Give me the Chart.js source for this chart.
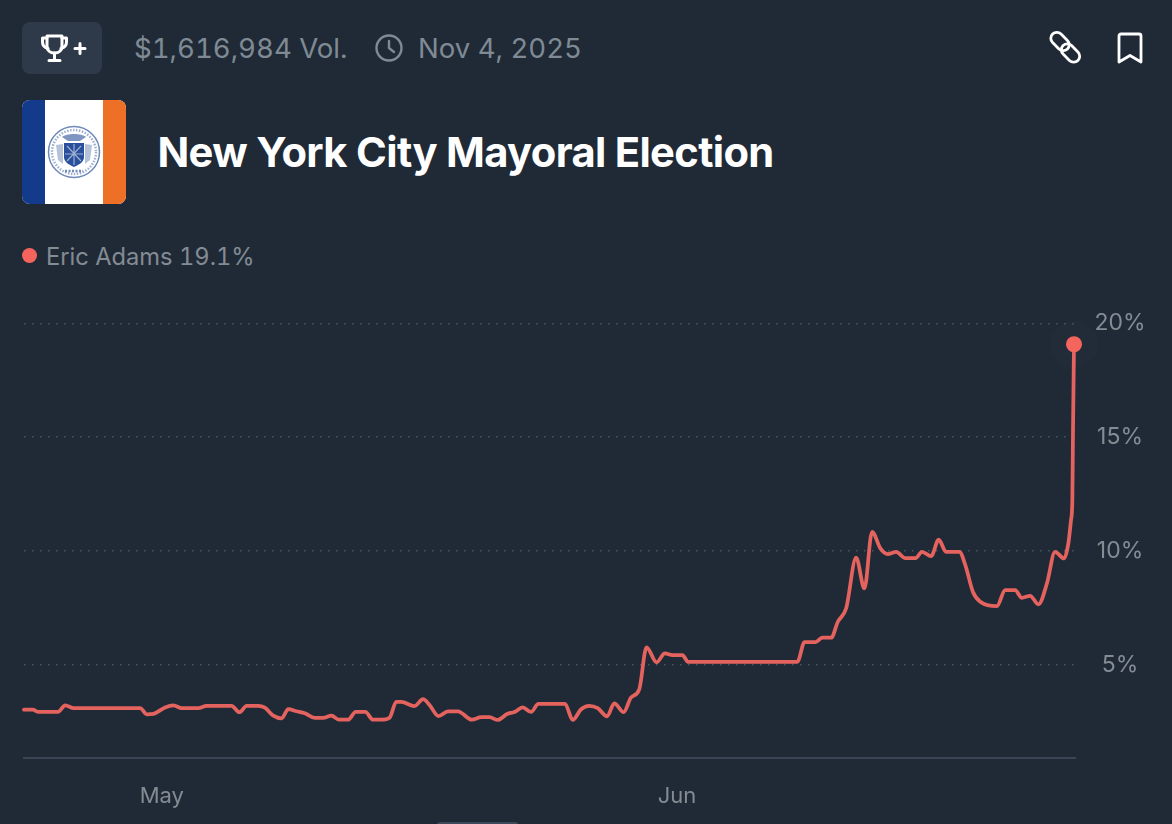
<!DOCTYPE html>
<html>
<head>
<meta charset="utf-8">
<title>New York City Mayoral Election</title>
<script src="https://cdn.jsdelivr.net/npm/chart.js@4"></script>
<style>
    html, body { margin: 0; padding: 0; background: #202a37; }
    body { width: 1172px; height: 824px; position: relative; overflow: hidden; font-family: Inter, sans-serif; color: #7f8a94; }
    .abs { position: absolute; white-space: nowrap; }
    #badge { left: 22px; top: 22px; width: 80px; height: 52px; border-radius: 8px; background: #2e3a4a; }
    #flag { left: 22px; top: 100px; width: 104px; height: 104px; border-radius: 8px; overflow: hidden; background: #fff; }
    #flag i { position: absolute; top: 0; bottom: 0; display: block; }
    #title { left: 157.500px; top: 127px; font-size: 41.700px; line-height: 50px; font-weight: 700; color: #fff; letter-spacing: -0.66px; }
    .meta { font-size: 27.600px; line-height: 34px; top: 31px; font-variant-numeric: tabular-nums; }
    #legend { left: 46px; top: 242px; font-size: 23.700px; line-height: 29px; color: #838b93; font-variant-numeric: tabular-nums; }
    #dot { left: 22px; top: 248px; width: 15px; height: 15px; border-radius: 50%; background: #f4645d; }
    #tab { left: 437px; top: 822px; width: 81px; height: 6px; border-radius: 6px; background: #3d4a5b; }
    #chartBox { left: 0; top: 290px; width: 1172px; height: 534px; }
</style>
</head>
<body>
<div class="abs" id="badge"></div>
<svg class="abs" style="left:38px;top:33px" width="52" height="32" viewBox="0 0 52 32" fill="none" stroke="#fff" stroke-width="3" stroke-linecap="round" stroke-linejoin="round">
    <path d="M9 3h15v10c0 4.500-3.200 7-7.500 7s-7.500-2.500-7.500-7z"/>
    <path d="M9 5H4.500v4c0 3.500 2 5.500 5.500 6.500M24 5h4.500v4c0 3.500-2 5.500-5.500 6.500"/>
    <path d="M16.500 20v7M11 27.500h11"/>
    <path d="M37 15.500h10M42 10.500v10"/>
</svg>
<div class="abs meta" style="left:134px">$1,616,984 Vol.</div>
<svg class="abs" style="left:375px;top:34px" width="28" height="28" viewBox="0 0 28 28" fill="none" stroke="#7f8a94" stroke-width="2.400" stroke-linecap="round" stroke-linejoin="round">
    <circle cx="14" cy="14" r="12.500"/>
    <path d="M14 7v7l5 4"/>
</svg>
<div class="abs meta" style="left:418px">Nov 4, 2025</div>
<svg class="abs" style="left:1048px;top:30px" width="36" height="36" viewBox="0 0 36 36" fill="none" stroke="#fff" stroke-width="2.800">
    <rect x="-10.500" y="-6" width="21" height="12" rx="6" transform="translate(12 11.500) rotate(45)"/>
    <rect x="-10.500" y="-6" width="21" height="12" rx="6" transform="translate(22.500 23) rotate(45)"/>
</svg>
<svg class="abs" style="left:1116px;top:32px" width="28" height="34" viewBox="0 0 28 34" fill="none" stroke="#fff" stroke-width="2.800" stroke-linecap="round" stroke-linejoin="round">
    <path d="M3 30V4a2 2 0 0 1 2-2h18a2 2 0 0 1 2 2v26l-11-6.500z"/>
</svg>

<div class="abs" id="flag">
    <i style="left:0;width:23px;background:#143a8c"></i>
    <i style="right:0;width:23px;background:#ee7027"></i>
    <svg style="position:absolute;left:25px;top:25px" width="54" height="54" viewBox="0 0 54 54" fill="none" stroke="#6f8ab8">
        <circle cx="27" cy="27" r="25.500" stroke-width="1.500"/>
        <circle cx="27" cy="27" r="22" stroke-width="2.500" stroke-dasharray="1.500 1.500" stroke="#9db0d0"/>
        <path d="M15 12c4-4 20-4 24 0l-6 4H21z" fill="#7f97c0" stroke="none"/>
        <path d="M9 20l7-1v20l-5-4zM45 20l-7-1v20l5-4z" fill="#b4c2da" stroke="none"/>
        <path d="M17 18h20v15c-1 5-6 7-10 9c-4-2-9-4-10-9z" fill="#2a4f9c" stroke="none"/>
        <path d="M20 21l14 15M34 21l-14 15M27 19v21M18 29h18" stroke="#9db0d0" stroke-width="1.200"/>
        <path d="M18 46h18" stroke-width="2.500" stroke-dasharray="2 1.500"/>
    </svg>
</div>
<div class="abs" id="title">New York City Mayoral Election</div>

<div class="abs" id="dot"></div>
<div class="abs" id="legend">Eric Adams 19.1%</div>

<div class="abs" id="chartBox"><canvas id="oddsChart"></canvas></div>
<div class="abs" id="tab"></div>

<script>
'use strict'

var seriesName = "Eric Adams";

// days counted from May 1
var xDays = [
    -8.29, -7.77, -7.41, -6.25, -5.81, -5.30, -1.30, -0.90, -0.50, 0.20,
    0.70, 1.20, 2.20, 2.70, 4.20, 4.67, 5.11, 5.81, 6.20, 6.71,
    7.21, 7.61, 8.11, 8.61, 9.21, 9.71, 10.21, 10.65, 11.21, 11.67,
    12.25, 12.71, 13.21, 13.71, 14.11, 14.41, 15.21, 15.72, 16.11, 16.65,
    17.22, 17.82, 18.66, 19.22, 19.72, 20.22, 20.78, 21.22, 21.72, 22.22,
    22.66, 24.26, 24.73, 25.23, 25.72, 26.23, 26.79, 27.23, 27.79, 28.23,
    28.73, 29.17, 29.77, 30.27, 30.73, 31.33, 31.67, 38.24, 38.68, 39.34,
    39.74, 40.28, 40.68, 41.18, 41.78, 42.28, 42.74, 43.24, 43.68, 44.19,
    44.74, 45.35, 45.75, 46.29, 46.75, 47.19, 47.99, 48.35, 48.81, 49.25,
    50.25, 50.75, 51.35, 51.75, 52.25, 52.75, 53.26, 53.75, 54.29, 54.55,
    54.71, 54.79, 54.83, 54.89
];

var adamsPct = [
    3.04, 3.04, 2.94, 2.94, 3.23, 3.11, 3.11, 2.84, 2.86, 3.14,
    3.23, 3.11, 3.11, 3.21, 3.21, 2.93, 3.21, 3.21, 3.13, 2.78,
    2.66, 3.06, 2.97, 2.88, 2.68, 2.68, 2.78, 2.60, 2.60, 2.94,
    2.94, 2.60, 2.60, 2.69, 3.38, 3.38, 3.20, 3.50, 3.25, 2.76,
    2.97, 2.97, 2.60, 2.71, 2.71, 2.59, 2.85, 2.94, 3.14, 2.94,
    3.30, 3.30, 2.59, 3.06, 3.21, 3.11, 2.75, 3.32, 2.93, 3.57,
    3.93, 5.78, 5.12, 5.51, 5.43, 5.43, 5.14, 5.14, 6.01, 6.01,
    6.20, 6.20, 6.90, 7.49, 9.71, 8.36, 10.85, 10.12, 9.87, 9.97,
    9.69, 9.69, 9.97, 9.78, 10.50, 9.97, 9.97, 9.39, 8.21, 7.78,
    7.59, 8.29, 8.29, 7.95, 8.04, 7.66, 8.58, 9.97, 9.68, 10.34,
    11.36, 12.24, 15.30, 19.08
];

var xTickDays = [0, 31];
var xTickLabels = ["May", "Jun"];
var yTickValues = [5, 10, 15, 20];

var linePoints = [];
for (let i = 0; i < xDays.length; i++) {
    linePoints.push({ x: xDays[i], y: adamsPct[i] });
}
var lastPoint = linePoints[linePoints.length - 1];

var chartConfig = {
    type: "line",
    data: {
        datasets: [{
            label: seriesName + " latest halo",
            data: [lastPoint],
            pointRadius: 24,
            pointHoverRadius: 24,
            pointBackgroundColor: 'rgba(255, 255, 255, 0.012)',
            pointBorderWidth: 0,
            showLine: false,
            clip: false,
        }, {
            label: seriesName + " latest",
            data: [lastPoint],
            pointRadius: 8,
            pointHoverRadius: 8,
            pointBackgroundColor: '#f4645d',
            pointBorderWidth: 0,
            showLine: false,
            clip: false,
        }, {
            label: seriesName,
            data: linePoints,
            borderColor: '#e5635e',
            borderWidth: 3.75,
            pointRadius: 0,
            fill: false,
            cubicInterpolationMode: 'monotone',
            borderCapStyle: 'round',
            borderJoinStyle: 'round',
            clip: false,
        }]
    },
    options: {
        responsive: false,
        maintainAspectRatio: false,
        animation: false,
        layout: {
            padding: { left: 22, right: 0, top: 10.5, bottom: 0 }
        },
        plugins: {
            legend: { display: false },
            tooltip: { enabled: false },
            title: { display: false }
        },
        scales: {
            x: {
                type: 'linear',
                min: -8.29,
                max: 54.95,
                afterBuildTicks: function (axis) {
                    axis.ticks = xTickDays.map(function (d) { return { value: d }; });
                },
                afterFit: function (axis) {
                    axis.height = 66;
                },
                grid: { display: false, drawTicks: false },
                border: { display: true, color: '#3a4655', width: 2 },
                ticks: {
                    color: '#838b93',
                    padding: 25,
                    autoSkip: false,
                    maxRotation: 0,
                    font: { family: 'Inter', size: 22 },
                    callback: function (value) {
                        return xTickLabels[xTickDays.indexOf(value)];
                    }
                }
            },
            y: {
                type: 'linear',
                position: 'right',
                min: 0.92,
                max: 20,
                afterBuildTicks: function (axis) {
                    axis.ticks = yTickValues.map(function (v) { return { value: v }; });
                },
                afterFit: function (axis) {
                    axis.width = 97;
                },
                grid: {
                    color: 'rgba(150, 165, 180, 0.35)',
                    lineWidth: 1.5,
                    drawTicks: false,
                },
                border: { display: false, dash: [1.5, 6.5] },
                ticks: {
                    color: '#838b93',
                    padding: 19.5,
                    crossAlign: 'center',
                    font: { family: 'Inter', size: 23 },
                    callback: function (value) {
                        return value + "%";
                    }
                }
            }
        }
    }
};

var canvas = document.getElementById("oddsChart");
canvas.width = 1172;
canvas.height = 534;
new Chart(canvas, chartConfig);
</script>
</body>
</html>
